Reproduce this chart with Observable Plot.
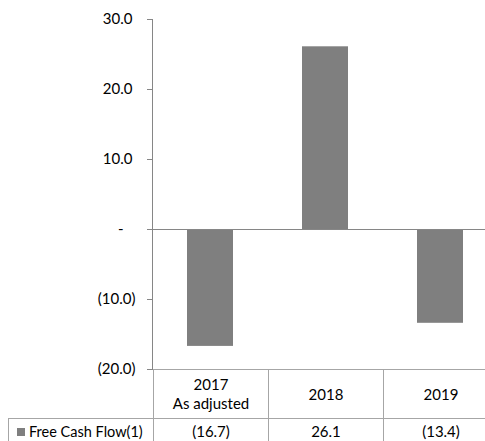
<!DOCTYPE html>
<html>
<head>
<meta charset="utf-8">
<script src="https://cdn.jsdelivr.net/npm/d3@7"></script>
<script src="https://cdn.jsdelivr.net/npm/@observablehq/plot@0.6"></script>
<style>
  html, body { margin: 0; padding: 0; background: #fff; }
  #wrap { position: relative; width: 485px; height: 441px; overflow: hidden; font-family: Lato, "Open Sans", sans-serif; }
  #chart { position: absolute; left: 0; top: 0; }
  #chart svg { display: block; overflow: visible; }
  table { position: absolute; left: 8px; top: 369px; width: 490px; border-collapse: collapse; table-layout: fixed; font-family: Lato, sans-serif; font-size: 15px; color: #000; }
  td { border: 1px solid #a6a6a6; text-align: center; padding: 0; line-height: 19px; overflow: hidden; }
  tr.cats td { height: 48px; }
  tr.cats td.blank { border: none; border-right: 1px solid #a6a6a6; }
  tr.vals td { height: 26px; vertical-align: top; padding-top: 3px; }
  td.legend { text-align: left; padding-left: 8px; white-space: nowrap; font-size: 14.5px; }
  .swatch { display: inline-block; width: 8px; height: 8px; background: #7f7f7f; margin-right: 4px; vertical-align: 1px; }
</style>
</head>
<body>
<div id="wrap">
  <div id="chart"></div>
  <table id="tbl"></table>
</div>
<script>
const categories = ["2017\nAs adjusted", "2018", "2019"];
const values = [-16.7, 26.1, -13.4];
const seriesName = "Free Cash Flow(1)";
const negTicks = [-20, -10];
const zeroTicks = [0];
const posTicks = [10, 20, 30];

const fmt = v => v === 0 ? "-" : v < 0 ? `(${Math.abs(v).toFixed(1)})` : v.toFixed(1);
const data = categories.map((c, i) => ({cat: c, value: values[i]}));

const axisCommon = {anchor: "left", label: null, tickSize: 5, stroke: "#868686", tickFormat: fmt, fontSize: 15};

const chart = Plot.plot({
  width: 485,
  height: 380,
  marginTop: 19,
  marginBottom: 11,
  marginLeft: 152,
  marginRight: 0,
  style: {fontFamily: "Lato, sans-serif", fontSize: "15px", color: "#000", background: "transparent", overflow: "visible"},
  x: {domain: categories, range: [152, 497], paddingInner: 0.6, paddingOuter: 0.3, axis: null},
  y: {domain: [-20, 30], axis: null},
  marks: [
    Plot.barY(data, {x: "cat", y: "value", fill: "#7f7f7f"}),
    Plot.ruleY([0], {stroke: "#868686"}),
    Plot.ruleY([-20], {stroke: "#8c8c8c"}),
    Plot.frame({anchor: "left", stroke: "#868686"}),
    Plot.axisY({...axisCommon, ticks: negTicks, tickPadding: 12}),
    Plot.axisY({...axisCommon, ticks: posTicks, tickPadding: 15}),
    Plot.axisY({...axisCommon, ticks: zeroTicks, tickPadding: 24})
  ]
});
document.getElementById("chart").appendChild(chart);

// data table below the chart
const tbl = document.getElementById("tbl");
const colgroup = document.createElement("colgroup");
[145, 115, 115, 115].forEach(w => { const c = document.createElement("col"); c.style.width = w + "px"; colgroup.appendChild(c); });
tbl.appendChild(colgroup);
const r1 = document.createElement("tr"); r1.className = "cats";
const blank = document.createElement("td"); blank.className = "blank"; r1.appendChild(blank);
categories.forEach(c => {
  const td = document.createElement("td");
  c.split("\n").forEach((line, i) => { if (i) td.appendChild(document.createElement("br")); td.appendChild(document.createTextNode(line)); });
  r1.appendChild(td);
});
tbl.appendChild(r1);
const r2 = document.createElement("tr"); r2.className = "vals";
const lg = document.createElement("td"); lg.className = "legend";
const sw = document.createElement("span"); sw.className = "swatch"; lg.appendChild(sw);
lg.appendChild(document.createTextNode(seriesName));
r2.appendChild(lg);
values.forEach(v => { const td = document.createElement("td"); td.textContent = fmt(v); r2.appendChild(td); });
tbl.appendChild(r2);
</script>
</body>
</html>
